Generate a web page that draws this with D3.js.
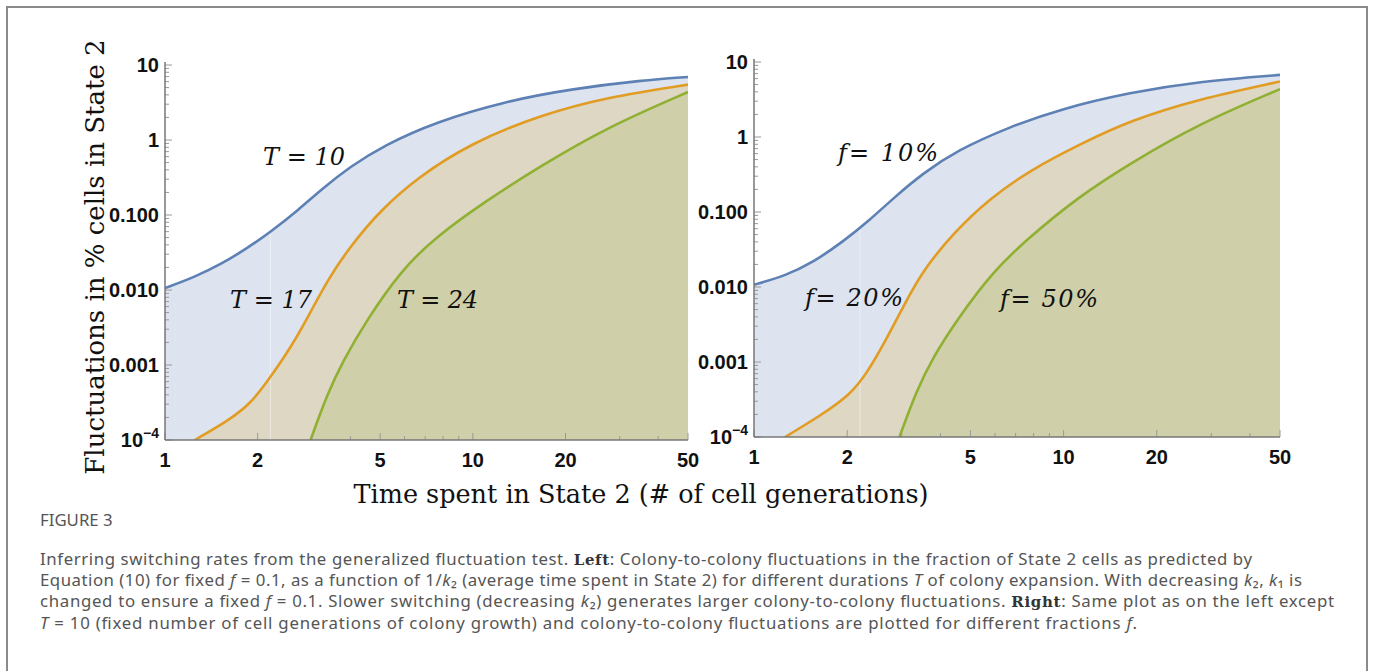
<!DOCTYPE html>
<meta charset="utf-8">
<title>Figure 3</title>
<style>
body { margin: 0; background: #fff; }
svg { display: block; }
.tick-label { font-family: "Liberation Sans", Arial, sans-serif; font-weight: bold; font-size: 20px; fill: #111; }
.axis-title { font-family: "DejaVu Serif", "Liberation Serif", serif; fill: #111; }
.curve-label { font-family: "DejaVu Serif", serif; font-style: italic; font-size: 24px; fill: #111; }
.caption { font-family: "Noto Sans", "Open Sans", sans-serif; font-size: 16.8px; fill: #555; }
</style>
<body>
<svg width="1373" height="671"></svg>
<script src="https://d3js.org/d3.v7.min.js"></script>
<script>

// x = time spent in State 2 (cell generations), y = fluctuations in % cells in State 2
var leftBlue = [[1,0.0106],[1.25,0.0149],[1.53,0.0224],[1.84,0.0356],[2.2,0.0593],[2.7,0.115],[3.24,0.224],[3.98,0.436],[5.14,0.849],[7.57,1.74],[12.7,3.28],[21.2,4.83],[35.5,6.25],[50,6.92]];
var leftOrange = [[1.25,0.0001],[1.61,0.000183],[1.9,0.000305],[2.2,0.00069],[2.57,0.00174],[2.95,0.0048],[3.37,0.0135],[3.98,0.0374],[5.0,0.115],[6.65,0.321],[9.79,0.894],[16.4,2.13],[27.4,3.75],[50,5.47]];
var leftGreen = [[2.97,0.0001],[3.37,0.000415],[3.78,0.00112],[4.52,0.00398],[5.85,0.0183],[7.57,0.0509],[11.1,0.157],[16.4,0.436],[27.4,1.49],[50,4.36]];

var rightBlue = [[1,0.0107],[1.26,0.0141],[1.55,0.0212],[1.95,0.041],[2.33,0.0741],[2.86,0.161],[3.51,0.327],[4.54,0.667],[6.67,1.36],[9.8,2.37],[16.4,3.93],[27.3,5.5],[50,6.73]];
var rightOrange = [[1.26,0.0001],[1.63,0.00019],[2.05,0.000366],[2.33,0.00074],[2.65,0.00186],[3.09,0.0063],[3.51,0.0166],[4.42,0.053],[5.71,0.146],[7.8,0.363],[11.4,0.817],[16.4,1.66],[27.3,3.21],[50,5.5]];
var rightGreen = [[2.95,0.0001],[3.34,0.000406],[3.79,0.00117],[4.54,0.00372],[5.87,0.0156],[7.6,0.043],[11.2,0.161],[16.4,0.444],[27.3,1.5],[50,4.35]];

var leftLabels = ["T = 10", "T = 17", "T = 24"];
var rightLabels = ["f= 10%", "f= 20%", "f= 50%"];

var xTicks = [1, 2, 5, 10, 20, 50];
var yTicks = [10, 1, 0.1, 0.01, 0.001, 0.0001];
var yTickText = ["10", "1", "0.100", "0.010", "0.001", "10"];

var lineColors = ["#5e81b5", "#e19c24", "#8fb032"];
var fillColors = ["#dde4ef", "#ded7c4", "#cfd0a9"];

var svg = d3.select("svg");

// outer frame
svg.append("path")
    .attr("d", "M7,680 V7 H1367 V680")
    .attr("fill", "none")
    .attr("stroke", "#8a8a8a")
    .attr("stroke-width", 2);

function panel(id, box, series, labels, labelPos) {
  var x = d3.scaleLog().domain([1, 50]).range([box.x0, box.x1]),
      y = d3.scaleLog().domain([1e-4, 10]).range([box.y1, box.y0]);

  var g = svg.append("g");
  var defs = g.append("defs");

  defs.append("clipPath").attr("id", id)
    .append("rect")
      .attr("x", box.x0).attr("y", box.y0)
      .attr("width", box.x1 - box.x0).attr("height", box.y1 - box.y0);

  var plot = g.append("g").attr("clip-path", "url(#" + id + ")");

  var curve = d3.curveBasis;

  var area = d3.area()
      .x(function(d) { return x(d[0]); })
      .y0(y(1e-4))
      .y1(function(d) { return y(d[1]); })
      .curve(curve);

  var line = d3.line()
      .x(function(d) { return x(d[0]); })
      .y(function(d) { return y(d[1]); })
      .curve(curve);

  series.forEach(function(s, i) {
    plot.append("path")
        .attr("d", area(s))
        .attr("fill", fillColors[i]);
  });

  // faint seam in the filling, as in the original rendering
  defs.append("clipPath").attr("id", id + "b")
    .append("path").attr("d", area(series[0]));
  plot.append("line")
      .attr("clip-path", "url(#" + id + "b)")
      .attr("x1", x(2.2)).attr("x2", x(2.2))
      .attr("y1", box.y0).attr("y2", box.y1)
      .attr("stroke", "#fff").attr("stroke-opacity", 0.45).attr("stroke-width", 1);

  series.forEach(function(s, i) {
    plot.append("path")
        .attr("d", line(s))
        .attr("fill", "none")
        .attr("stroke", lineColors[i])
        .attr("stroke-width", 2.6);
  });

  // y axis with minor ticks
  var yMinor = [];
  for (var e = -4; e < 1; e++) for (var k = 1; k < 10; k++) yMinor.push({v: k * Math.pow(10, e), major: k === 1});
  yMinor.push({v: 10, major: true});
  g.selectAll(".ym").data(yMinor).enter().append("line")
      .attr("x1", box.x0).attr("x2", function(d) { return box.x0 + (d.major ? 7 : 4); })
      .attr("y1", function(d) { return y(d.v); }).attr("y2", function(d) { return y(d.v); })
      .attr("stroke", "#999").attr("stroke-width", 1);

  var xMinor = [1,2,3,4,5,6,7,8,9,10,20,30,40,50];
  g.selectAll(".xm").data(xMinor).enter().append("line")
      .attr("y1", box.y1).attr("y2", function(d) { return box.y1 - (xTicks.indexOf(d) >= 0 ? 7 : 4); })
      .attr("x1", function(d) { return x(d); }).attr("x2", function(d) { return x(d); })
      .attr("stroke", "#999").attr("stroke-width", 1);

  g.append("line").attr("x1", box.x0).attr("x2", box.x0).attr("y1", box.y0 - 3).attr("y2", box.y1)
      .attr("stroke", "#777").attr("stroke-width", 1.5);
  g.append("line").attr("x1", box.x0).attr("x2", box.x1).attr("y1", box.y1).attr("y2", box.y1)
      .attr("stroke", "#777").attr("stroke-width", 1.5);

  // tick labels
  g.selectAll(".xl").data(xTicks).enter().append("text")
      .attr("class", "tick-label")
      .attr("x", function(d) { return x(d); })
      .attr("y", box.y1 + 27)
      .attr("text-anchor", "middle")
      .text(function(d) { return d; });

  yTicks.forEach(function(d, i) {
    var t = g.append("text")
        .attr("class", "tick-label")
        .attr("x", box.x0 - 6)
        .attr("y", y(d) + 7)
        .attr("text-anchor", "end");
    if (i === yTicks.length - 1) {
      t.append("tspan").text("10");
      t.append("tspan").attr("dy", -9).attr("font-size", 14).text("\u22124");
    } else {
      t.text(yTickText[i]);
    }
  });

  labels.forEach(function(l, i) {
    g.append("text")
        .attr("class", "curve-label")
        .attr("x", labelPos[i][0]).attr("y", labelPos[i][1])
        .attr("textLength", labelPos[i][2])
        .attr("lengthAdjust", "spacing")
        .attr("xml:space", "preserve")
        .text(l);
  });
}

panel("clipL", {x0: 165, x1: 688, y0: 65, y1: 440},
      [leftBlue, leftOrange, leftGreen], leftLabels,
      [[263, 165, 82], [230, 308, 82], [397, 308, 81]]);
panel("clipR", {x0: 754, x1: 1280, y0: 62, y1: 437},
      [rightBlue, rightOrange, rightGreen], rightLabels,
      [[838, 161, 100], [805, 306, 98], [1000, 307, 98]]);

svg.append("text")
    .attr("class", "axis-title")
    .attr("font-size", 26)
    .attr("transform", "translate(104,257) rotate(-90)")
    .attr("text-anchor", "middle")
    .text("Fluctuations in % cells in State 2");

svg.append("text")
    .attr("class", "axis-title")
    .attr("font-size", 25.5)
    .attr("x", 641).attr("y", 503)
    .attr("text-anchor", "middle")
    .text("Time spent in State 2 (# of cell generations)");

// caption
svg.append("text")
    .attr("class", "caption")
    .attr("x", 40).attr("y", 526)
    .attr("font-size", 13.5)
    .text("FIGURE 3");

var capLines = [
  [["Inferring switching rates from the generalized fluctuation test. "], ["Left", "b"], [": Colony-to-colony fluctuations in the fraction of State 2 cells as predicted by"]],
  [["Equation (10) for fixed "], ["f", "i"], [" = 0.1, as a function of 1/"], ["k", "i"], ["\u2082"], [" (average time spent in State 2) for different durations "], ["T", "i"], [" of colony expansion. With decreasing "], ["k", "i"], ["\u2082, "], ["k", "i"], ["\u2081 is"]],
  [["changed to ensure a fixed "], ["f", "i"], [" = 0.1. Slower switching (decreasing "], ["k", "i"], ["\u2082) generates larger colony-to-colony fluctuations. "], ["Right", "b"], [": Same plot as on the left except"]],
  [["T", "i"], [" = 10 (fixed number of cell generations of colony growth) and colony-to-colony fluctuations are plotted for different fractions "], ["f", "i"], ["."]]
];
var capEnds = [1252, 1302, 1334, 1137];

capLines.forEach(function(parts, li) {
  var t = svg.append("text")
      .attr("class", "caption")
      .attr("x", 40).attr("y", 565 + li * 21.2)
      .attr("xml:space", "preserve");
  parts.forEach(function(p) {
    var s = t.append("tspan").text(p[0]);
    if (p[1] === "b") s.attr("font-family", "DejaVu Serif, serif").attr("font-weight", "bold").attr("fill", "#333").attr("font-size", 15);
    if (p[1] === "i") s.attr("font-style", "italic");
  });
  t.attr("textLength", capEnds[li] - 40).attr("lengthAdjust", "spacing");
});

</script>
</body>
